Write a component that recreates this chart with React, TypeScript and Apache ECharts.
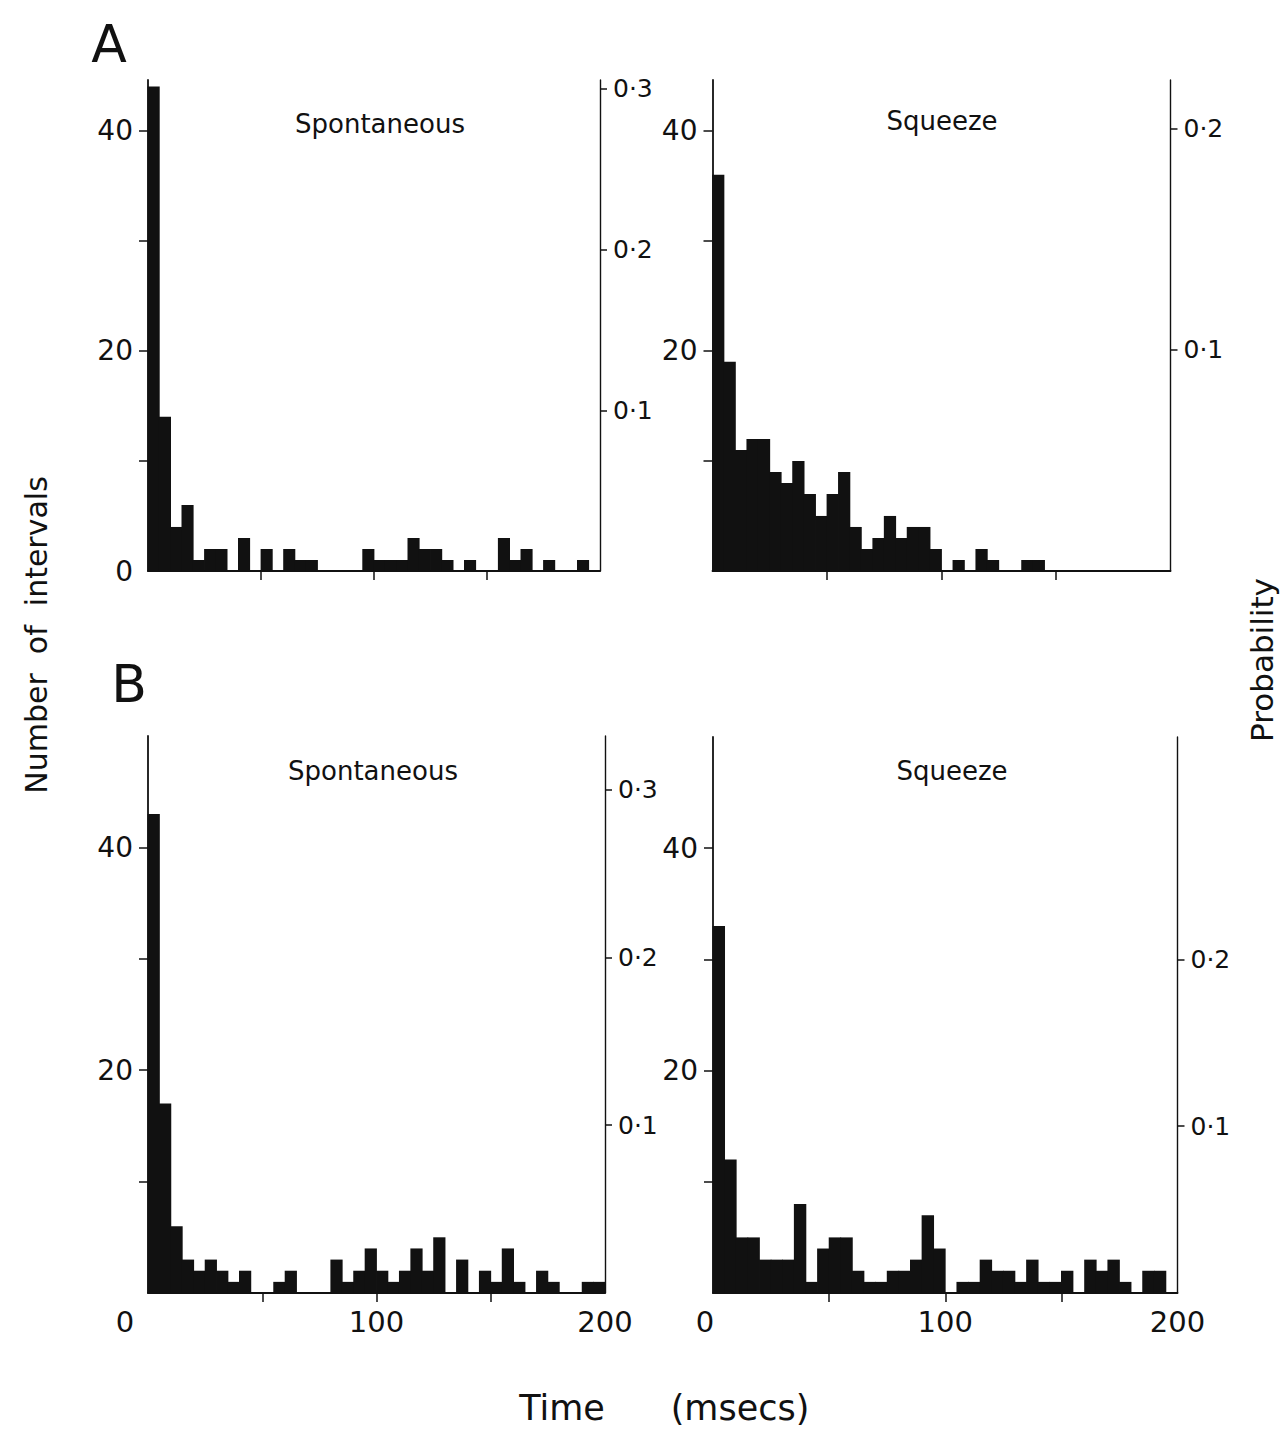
import React, { useEffect, useRef } from 'react';
import * as echarts from 'echarts';

// ---------- data (counts per 5 ms bin, 0-200 ms) ----------
const BIN_MS = 5;
const A_SPONTANEOUS = [44, 14, 4, 6, 1, 2, 2, 0, 3, 0, 2, 0, 2, 1, 1, 0, 0, 0, 0, 2, 1, 1, 1, 3, 2, 2, 1, 0, 1, 0, 0, 3, 1, 2, 0, 1, 0, 0, 1, 0];
const A_SQUEEZE = [36, 19, 11, 12, 12, 9, 8, 10, 7, 5, 7, 9, 4, 2, 3, 5, 3, 4, 4, 2, 0, 1, 0, 2, 1, 0, 0, 1, 1, 0, 0, 0, 0, 0, 0, 0, 0, 0, 0, 0];
const B_SPONTANEOUS = [43, 17, 6, 3, 2, 3, 2, 1, 2, 0, 0, 1, 2, 0, 0, 0, 3, 1, 2, 4, 2, 1, 2, 4, 2, 5, 0, 3, 0, 2, 1, 4, 1, 0, 2, 1, 0, 0, 1, 1];
const B_SQUEEZE = [33, 12, 5, 5, 3, 3, 3, 8, 1, 4, 5, 5, 2, 1, 1, 2, 2, 3, 7, 4, 0, 1, 1, 3, 2, 2, 1, 3, 1, 1, 2, 0, 3, 2, 3, 1, 0, 2, 2, 0];

// total intervals used for the probability (right) axis of each panel
const TOTALS = [146, 201, 150.6, 150];
const PANEL_TITLES = ['Spontaneous', 'Squeeze', 'Spontaneous', 'Squeeze'];
const PANEL_DATA = [A_SPONTANEOUS, A_SQUEEZE, B_SPONTANEOUS, B_SQUEEZE];

const COUNT_TICKS = [10, 20, 30, 40];
const COUNT_LABELS_FIRST = [0, 20, 40];
const COUNT_LABELS = [20, 40];
const PROB_TICKS_3 = [0.1, 0.2, 0.3];
const PROB_TICKS_2 = [0.1, 0.2];
const TIME_TICKS = [50, 100, 150];
const TIME_LABELS = [0, 100, 200];

// ---------- layout ----------
const FONT = '"DejaVu Sans", "Noto Sans", sans-serif';
const INK = '#111';

const GRIDS = [
  { left: 148, top: 80, width: 452, height: 491 },
  { left: 712.5, top: 80, width: 458, height: 491 },
  { left: 148, top: 736, width: 457, height: 557 },
  { left: 713, top: 737, width: 464.5, height: 556 },
];
const COUNT_MAX = [44.6, 44.6, 50, 50];
const PROB_TICKS = [PROB_TICKS_3, PROB_TICKS_2, PROB_TICKS_3, PROB_TICKS_2];
const TITLE_POS = [
  [380, 124],
  [942, 121],
  [373, 771],
  [952, 771],
];
const ZERO_SHIFT = [0, 0, 46, 16];

function buildOption() {
  const lineStyle = { color: INK, width: 1.8 };
  const xAxis: any[] = [];
  const yAxis: any[] = [];
  const series: any[] = [];
  const grid: any[] = GRIDS.map((g) => ({ ...g, containLabel: false }));

  for (let i = 0; i < 4; i++) {
    const isB = i >= 2;
    xAxis.push({
      type: 'value',
      gridIndex: i,
      min: 0,
      max: 200,
      interval: 50,
      axisLine: { show: true, onZero: false, lineStyle },
      axisTick: { show: true, length: 9, customValues: TIME_TICKS, lineStyle: { color: INK, width: 1.5 } },
      splitLine: { show: false },
      axisLabel: {
        show: isB,
        customValues: TIME_LABELS,
        margin: 14,
        color: INK,
        fontFamily: FONT,
        fontSize: 29,
        formatter: (v: number) => (v === 0 ? '{z|0}' : String(v)),
        rich: {
          z: { padding: [0, ZERO_SHIFT[i], 0, 0], fontFamily: FONT, fontSize: 29, color: INK },
        },
      },
    });
    yAxis.push({
      type: 'value',
      gridIndex: i,
      position: 'left',
      min: 0,
      max: COUNT_MAX[i],
      axisLine: { show: true, onZero: false, lineStyle },
      axisTick: { show: true, length: 9, customValues: COUNT_TICKS, lineStyle: { color: INK, width: 1.5 } },
      splitLine: { show: false },
      axisLabel: {
        show: true,
        customValues: i === 0 ? COUNT_LABELS_FIRST : COUNT_LABELS,
        margin: 15,
        color: INK,
        fontFamily: FONT,
        fontSize: 28,
      },
    });
    yAxis.push({
      type: 'value',
      gridIndex: i,
      position: 'right',
      min: 0,
      max: COUNT_MAX[i] / TOTALS[i],
      axisLine: { show: true, onZero: false, lineStyle: { color: INK, width: 1.4 } },
      axisTick: { show: true, length: 7, customValues: PROB_TICKS[i], lineStyle: { color: INK, width: 1.5 } },
      splitLine: { show: false },
      axisLabel: {
        show: true,
        customValues: PROB_TICKS[i],
        margin: 13,
        color: INK,
        fontFamily: FONT,
        fontSize: 25,
        formatter: (v: number) => v.toFixed(1).replace('.', '·'),
      },
    });
    series.push({
      type: 'custom',
      xAxisIndex: i,
      yAxisIndex: 2 * i,
      data: PANEL_DATA[i].map((c, k) => [k * BIN_MS, c]),
      encode: { x: 0, y: 1 },
      clip: false,
      renderItem: (_params: any, api: any) => {
        const start = api.value(0) as number;
        const c = api.value(1) as number;
        if (!c) return { type: 'group', children: [] };
        const bl = api.coord([start, 0]);
        const tr = api.coord([start + BIN_MS, c]);
        return {
          type: 'rect',
          shape: { x: bl[0] - 0.4, y: tr[1], width: tr[0] - bl[0] + 0.8, height: bl[1] - tr[1] },
          style: { fill: INK },
        };
      },
    });
  }

  const txt = (text: string, x: number, y: number, size: number, extra: any = {}) => ({
    type: 'text',
    x,
    y,
    ...extra,
    style: {
      text,
      fill: INK,
      font: `${size}px ${FONT}`,
      textAlign: 'center',
      textVerticalAlign: 'middle',
    },
  });

  const graphic: any[] = [
    txt('A', 109, 44, 52),
    txt('B', 129, 684, 52),
    ...PANEL_TITLES.map((t, i) => txt(t, TITLE_POS[i][0], TITLE_POS[i][1], 26)),
    txt('Number  of  intervals', 36, 635, 30, { rotation: Math.PI / 2 }),
    txt('Probability', 1262, 660, 31, { rotation: Math.PI / 2 }),
    txt('Time', 562, 1408, 35),
    txt('(msecs)', 740, 1408, 35),
  ];

  return {
    animation: false,
    backgroundColor: '#fff',
    grid,
    xAxis,
    yAxis,
    series,
    graphic,
  };
}

export default function App() {
  const ref = useRef<HTMLDivElement>(null);
  useEffect(() => {
    if (!ref.current) return;
    const chart = echarts.init(ref.current, null, { renderer: 'svg' });
    chart.setOption(buildOption() as any);
    return () => chart.dispose();
  }, []);
  return (
    <div
      ref={ref}
      style={{ position: 'absolute', left: 0, top: 0, width: 1280, height: 1429, background: '#fff' }}
    />
  );
}
